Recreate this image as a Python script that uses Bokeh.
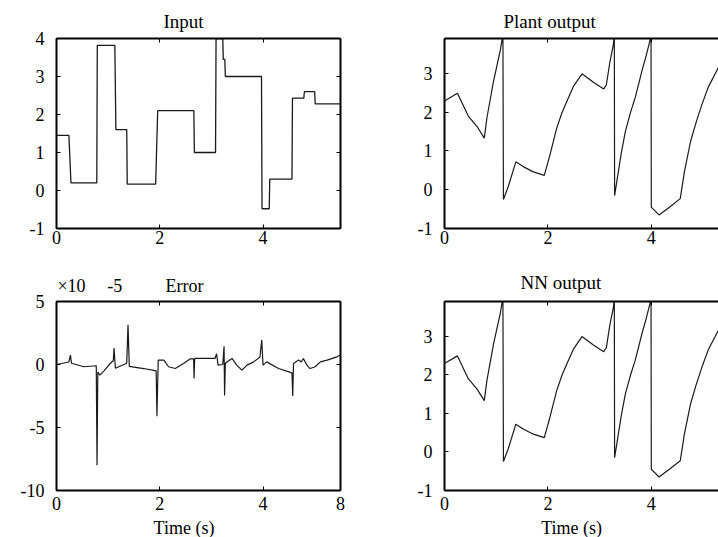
from bokeh.plotting import figure
from bokeh.layouts import column, row
from bokeh.models import Range1d, FixedTicker, LinearAxis
from bokeh.embed import file_html
from bokeh.resources import INLINE

FONT = "Liberation Serif"
TICK_FS = "18px"
TITLE_FS = "19px"

# ---------------- data ----------------
x_ticks = [0, 2, 4, 6]
x_tick_labels = ["0", "2", "4", "6"]

input_t = [0, 0.24, 0.28, 0.78, 0.79, 1.13, 1.15, 1.36, 1.37, 1.92, 1.96, 2.66, 2.67, 3.08, 3.09,
           3.22, 3.23, 3.26, 3.27, 3.97, 3.98, 4.12, 4.13, 4.56, 4.57, 4.79, 4.80, 5.00, 5.01, 5.5]
input_u = [1.45, 1.45, 0.2, 0.2, 3.82, 3.82, 1.6, 1.6, 0.17, 0.17, 2.1, 2.1, 1.0, 1.0, 4.0,
           4.0, 3.45, 3.45, 3.0, 3.0, -0.48, -0.48, 0.3, 0.3, 2.43, 2.43, 2.6, 2.6, 2.28, 2.28]
input_yticks = [-1, 0, 1, 2, 3, 4]
input_ytick_labels = ["-1", "0", "1", "2", "3", "4"]

plant_t = [0, 0.25, 0.46, 0.63, 0.77, 0.82, 0.95, 1.08, 1.13, 1.14, 1.23, 1.38, 1.53, 1.72, 1.93,
           2.04, 2.17, 2.27, 2.37, 2.50, 2.66, 2.88, 3.08, 3.13, 3.20, 3.27, 3.285, 3.29, 3.35, 3.42,
           3.50, 3.60, 3.69, 3.76, 3.82, 3.90, 3.98, 3.995, 4.0, 4.15, 4.35, 4.56, 4.64, 4.76, 4.87,
           4.98, 5.10, 5.30, 5.45]
plant_y = [2.29, 2.49, 1.90, 1.63, 1.33, 1.85, 2.81, 3.6, 4.0, -0.25, 0.07, 0.72, 0.59, 0.46, 0.37,
           0.9, 1.59, 1.98, 2.29, 2.68, 2.99, 2.77, 2.6, 2.7, 3.3, 3.77, 4.0, -0.15, 0.35, 0.95,
           1.51, 2.0, 2.38, 2.75, 3.07, 3.45, 3.88, 4.0, -0.45, -0.65, -0.45, -0.23, 0.46, 1.25, 1.75,
           2.2, 2.64, 3.16, 3.5]

nn_t = [0, 0.25, 0.46, 0.63, 0.77, 0.82, 0.95, 1.08, 1.13, 1.14, 1.23, 1.38, 1.53, 1.72, 1.93,
        2.04, 2.17, 2.27, 2.37, 2.50, 2.66, 2.88, 3.08, 3.13, 3.20, 3.27, 3.285, 3.29, 3.35, 3.42,
        3.50, 3.60, 3.69, 3.76, 3.82, 3.90, 3.98, 3.995, 4.0, 4.15, 4.35, 4.56, 4.64, 4.76, 4.87,
        4.98, 5.10, 5.30, 5.45]
nn_y = [2.29, 2.49, 1.90, 1.63, 1.33, 1.85, 2.81, 3.6, 4.0, -0.25, 0.07, 0.72, 0.59, 0.46, 0.37,
        0.9, 1.59, 1.98, 2.29, 2.68, 2.99, 2.77, 2.6, 2.7, 3.3, 3.77, 4.0, -0.15, 0.35, 0.95,
        1.51, 2.0, 2.38, 2.75, 3.07, 3.45, 3.88, 4.0, -0.45, -0.65, -0.45, -0.23, 0.46, 1.25, 1.75,
        2.2, 2.64, 3.16, 3.5]
output_yticks = [-1, 0, 1, 2, 3]
output_ytick_labels = ["-1", "0", "1", "2", "3"]

# error in units of 1e-5
err_t = [0, 0.24, 0.27, 0.29, 0.53, 0.77, 0.785, 0.80, 0.84, 0.92, 1.04, 1.10, 1.115, 1.14, 1.36,
         1.385, 1.41, 1.69, 1.93, 1.945, 1.97, 2.08, 2.17, 2.30, 2.46, 2.59, 2.655, 2.665, 2.675,
         3.07, 3.10, 3.13, 3.22, 3.245, 3.255, 3.27, 3.30, 3.40, 3.49, 3.59, 3.69, 3.82, 3.94,
         3.975, 4.0, 4.07, 4.30, 4.56, 4.575, 4.59, 4.69, 4.74, 4.78, 4.85, 4.91, 5.01, 5.11,
         5.24, 5.43, 5.5]
err_v = [0.0, 0.2, 0.75, 0.1, -0.18, -0.1, -8.0, -0.6, -0.84, -0.5, 0.08, 0.3, 1.3, -0.3, 0.1,
         3.15, -0.15, -0.32, -0.5, -4.1, 0.35, 0.35, -0.18, -0.32, 0.08, 0.45, 0.45, -1.1, 0.48,
         0.48, 0.85, -0.05, 0.0, 1.45, -2.45, 0.08, 0.2, 0.48, -0.05, -0.45, -0.05, 0.21, 0.6,
         1.95, -0.05, 0.21, -0.32, -0.66, -2.5, 0.08, 0.35, 0.2, 0.48, -0.05, -0.32, -0.18, 0.21,
         0.35, 0.61, 0.75]
err_yticks = [-10, -5, 0, 5]
err_ytick_labels = ["-10", "-5", "0", "5"]
err_xticks = [0, 2, 4, 5.5]
err_xtick_labels = ["0", "2", "4", "8"]
# header texts of the error panel: "×10" with exponent "-5", and the title
err_head_pos = [0.29, 1.13, 2.48]
err_head_text = ["×10", "-5", "Error"]
# x-axis title position (data units) for the bottom panels
xlabel_text = "Time (s)"
xlabel_pos_left = 2.47
xlabel_pos_right = 2.46


def style_axis(ax, ticks, labels, standoff):
    ax.ticker = FixedTicker(ticks=ticks)
    ax.major_tick_in = 4
    ax.major_tick_out = 0
    ax.minor_tick_in = 0
    ax.minor_tick_out = 0
    ax.axis_line_width = 2
    ax.axis_line_color = "black"
    ax.major_tick_line_color = "black"
    ax.major_tick_line_width = 1
    ax.major_label_standoff = standoff
    if labels is not None:
        ax.major_label_overrides = dict(zip(ticks, labels))
        ax.major_label_text_font = FONT
        ax.major_label_text_font_size = TICK_FS
        ax.major_label_text_color = "black"
    else:
        ax.major_label_text_font_size = "0px"
        ax.major_label_text_color = None
        ax.major_label_standoff = 0


def text_axis(positions, texts, standoff, size):
    ax = LinearAxis()
    ax.ticker = FixedTicker(ticks=positions)
    ax.major_label_overrides = dict(zip(positions, texts))
    ax.axis_line_color = None
    ax.major_tick_line_color = None
    ax.minor_tick_line_color = None
    ax.major_tick_in = 0
    ax.major_tick_out = 0
    ax.minor_tick_in = 0
    ax.minor_tick_out = 0
    ax.major_label_standoff = standoff
    ax.major_label_text_font = FONT
    ax.major_label_text_font_size = size
    ax.major_label_text_color = "black"
    return ax


def make_fig(fw, fh, bl, br, bt, bb, xr, yr, xticks, xlabels, xstand, yticks, ylabels, right_axis):
    p = figure(frame_width=fw, frame_height=fh,
               min_border_left=bl, min_border_right=br, min_border_top=bt, min_border_bottom=bb,
               x_range=Range1d(*xr), y_range=Range1d(*yr),
               x_axis_type=None, y_axis_type=None,
               output_backend="svg", toolbar_location=None)
    p.grid.visible = False
    p.outline_line_color = None
    p.background_fill_color = "white"
    p.border_fill_color = "white"
    bottom = LinearAxis()
    style_axis(bottom, xticks, xlabels, xstand)
    p.add_layout(bottom, "below")
    left = LinearAxis()
    style_axis(left, yticks, ylabels, 12)
    p.add_layout(left, "left")
    top = LinearAxis()
    style_axis(top, x_ticks, None, 0)
    p.add_layout(top, "above")
    if right_axis:
        rax = LinearAxis()
        style_axis(rax, yticks, None, 0)
        p.add_layout(rax, "right")
    return p


def set_title(p, text, offset, standoff):
    p.title.text = text
    p.title.align = "left"
    p.title.offset = offset
    p.title.text_font = FONT
    p.title.text_font_size = TITLE_FS
    p.title.text_font_style = "normal"
    p.title.text_color = "black"
    p.title.standoff = standoff


f1 = make_fig(284, 190, 56, 20, 38, 32, (0, 5.5), (-1, 4), x_ticks, x_tick_labels, 2,
              input_yticks, input_ytick_labels, True)
set_title(f1, "Input", 107, 14)
f1.line(input_t, input_u, line_color="#1a1a1a", line_width=1.3)

f2 = make_fig(274, 190, 84, 0, 38, 32, (0, 5.3), (-1, 3.9), x_ticks, x_tick_labels, 2,
              output_yticks, output_ytick_labels, False)
set_title(f2, "Plant output", 59, 14)
f2.line(plant_t, plant_y, line_color="#1a1a1a", line_width=1.2)

f3 = make_fig(284, 189, 56, 20, 41, 47, (0, 5.5), (-10, 5), err_xticks, err_xtick_labels, 6,
              err_yticks, err_ytick_labels, True)
f3.add_layout(text_axis(err_head_pos, err_head_text, 6, TICK_FS), "above")
f3.add_layout(text_axis([xlabel_pos_left], [xlabel_text], 5, TICK_FS), "below")
f3.line(err_t, err_v, line_color="#1a1a1a", line_width=1.2)

f4 = make_fig(274, 189, 84, 0, 41, 47, (0, 5.3), (-1, 3.9), x_ticks, x_tick_labels, 6,
              output_yticks, output_ytick_labels, False)
set_title(f4, "NN output", 76, 18)
f4.add_layout(text_axis([xlabel_pos_right], [xlabel_text], 5, TICK_FS), "below")
f4.line(nn_t, nn_y, line_color="#1a1a1a", line_width=1.2)

layout = column(row(f1, f2), row(f3, f4))

open("out.html", "w").write(file_html(layout, INLINE))
